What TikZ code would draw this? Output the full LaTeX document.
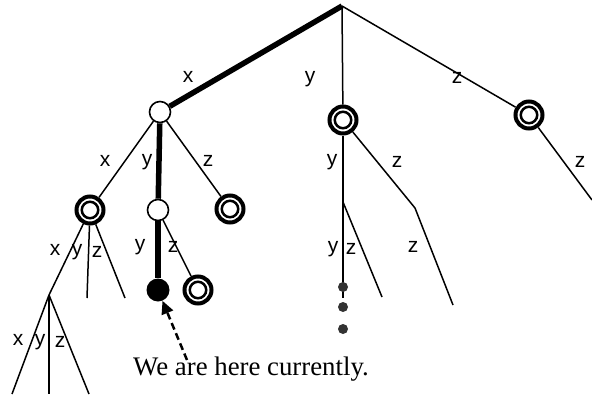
\documentclass[tikz,border=0pt]{standalone}
\usepackage{fontspec}
\setmainfont{Liberation Serif}
\setsansfont{Liberation Sans}
\usetikzlibrary{arrows.meta}

\begin{document}
\begin{tikzpicture}[x=1pt,y=-1pt,
    open/.style={circle,draw,fill=white,line width=1.6pt,minimum size=21pt,inner sep=0pt},
    accept/.style={circle,draw,fill=white,line width=4pt,minimum size=27pt,inner sep=0pt,
      path picture={\draw[line width=2.5pt] (path picture bounding box.center) circle (8.25pt);}},
    current/.style={circle,fill=black,minimum size=23pt,inner sep=0pt},
    dot/.style={circle,fill=black!80,minimum size=10pt,inner sep=0pt},
    lbl/.style={font=\sffamily\fontsize{21}{24}\selectfont,inner sep=0pt},
    branch/.style={line width=1.5pt},
    taken/.style={line width=5.5pt}]
    \useasboundingbox (0,0) rectangle (592,394);

    % states
    \coordinate (root) at (342,6);
    \node[open] (A) at (160,112) {};
    \node[open] (B) at (158,210) {};
    \node[current] (cur) at (158,290) {};
    \node[accept] (C) at (90,210) {};
    \node[accept] (E) at (230,209) {};
    \node[accept] (F) at (198,290) {};
    \node[accept] (M) at (343,120) {};
    \node[accept] (R) at (529,115) {};
    \coordinate (D) at (49,295);
    \coordinate (M1) at (343,202);
    \coordinate (M2) at (415,208);

    % loose ends
    \coordinate (c2) at (87,298);
    \coordinate (c3) at (125,298);
    \coordinate (d1) at (12,394);
    \coordinate (d2) at (49,394);
    \coordinate (d3) at (89,394);
    \coordinate (m1a) at (343,298);
    \coordinate (m1b) at (382,297);
    \coordinate (m2a) at (453,305);
    \coordinate (r1) at (592,200);

    % the path taken
    \draw[taken] (root) -- (A);
    \draw[taken] (A) -- (B);
    \draw[taken] (B) -- (cur);

    % other branches
    \draw[branch] (root) -- (M);
    \draw[branch] (root) -- (R);
    \draw[branch] (A) -- (C);
    \draw[branch] (A) -- (E);
    \draw[branch] (B) -- (F);
    \draw[branch] (C) -- (D);
    \draw[branch] (C) -- (c2);
    \draw[branch] (C) -- (c3);
    \draw[branch] (D) -- (d1);
    \draw[branch] (D) -- (d2);
    \draw[branch] (D) -- (d3);
    \draw[branch] (M) -- (M1);
    \draw[branch] (M) -- (M2);
    \draw[branch] (M1) -- (m1a);
    \draw[branch] (M1) -- (m1b);
    \draw[branch] (M2) -- (m2a);
    \draw[branch] (R) -- (r1);

    % labels
    \node[lbl] (rx) at (188,77) {x};
    \node[lbl] (ry) at (310,79) {y};
    \node[lbl] (rz) at (457,78) {z};
    \node[lbl] (ax) at (105,161) {x};
    \node[lbl] (ay) at (147,162) {y};
    \node[lbl] (az) at (208,161) {z};
    \node[lbl] (by) at (140,247) {y};
    \node[lbl] (bz) at (173,247) {z};
    \node[lbl] (cx) at (55,250) {x};
    \node[lbl] (cy) at (77,252) {y};
    \node[lbl] (cz) at (97,252) {z};
    \node[lbl] (dx) at (18,340) {x};
    \node[lbl] (dy) at (40,342) {y};
    \node[lbl] (dz) at (60,342) {z};
    \node[lbl] (my) at (332,162) {y};
    \node[lbl] (mz) at (397,162) {z};
    \node[lbl] (m1y) at (333,249) {y};
    \node[lbl] (m1z) at (351,249) {z};
    \node[lbl] (m2z) at (413,247) {z};
    \node[lbl] (rz2) at (580,162) {z};

    % more to come
    \node[dot] (dot1) at (343,287) {};
    \node[dot] (dot2) at (343,307) {};
    \node[dot] (dot3) at (343,329) {};

    % where we are
    \node[anchor=base west,inner sep=0pt,font=\fontsize{26.8}{32}\selectfont] (here) at (133,375) {We are here currently.};
    \coordinate (tail) at (187,360);
    \draw[line width=2.5pt,dash pattern=on 7pt off 4pt,-{Triangle[length=13pt,width=12pt]}] (tail) -- (cur);
\end{tikzpicture}
\end{document}
